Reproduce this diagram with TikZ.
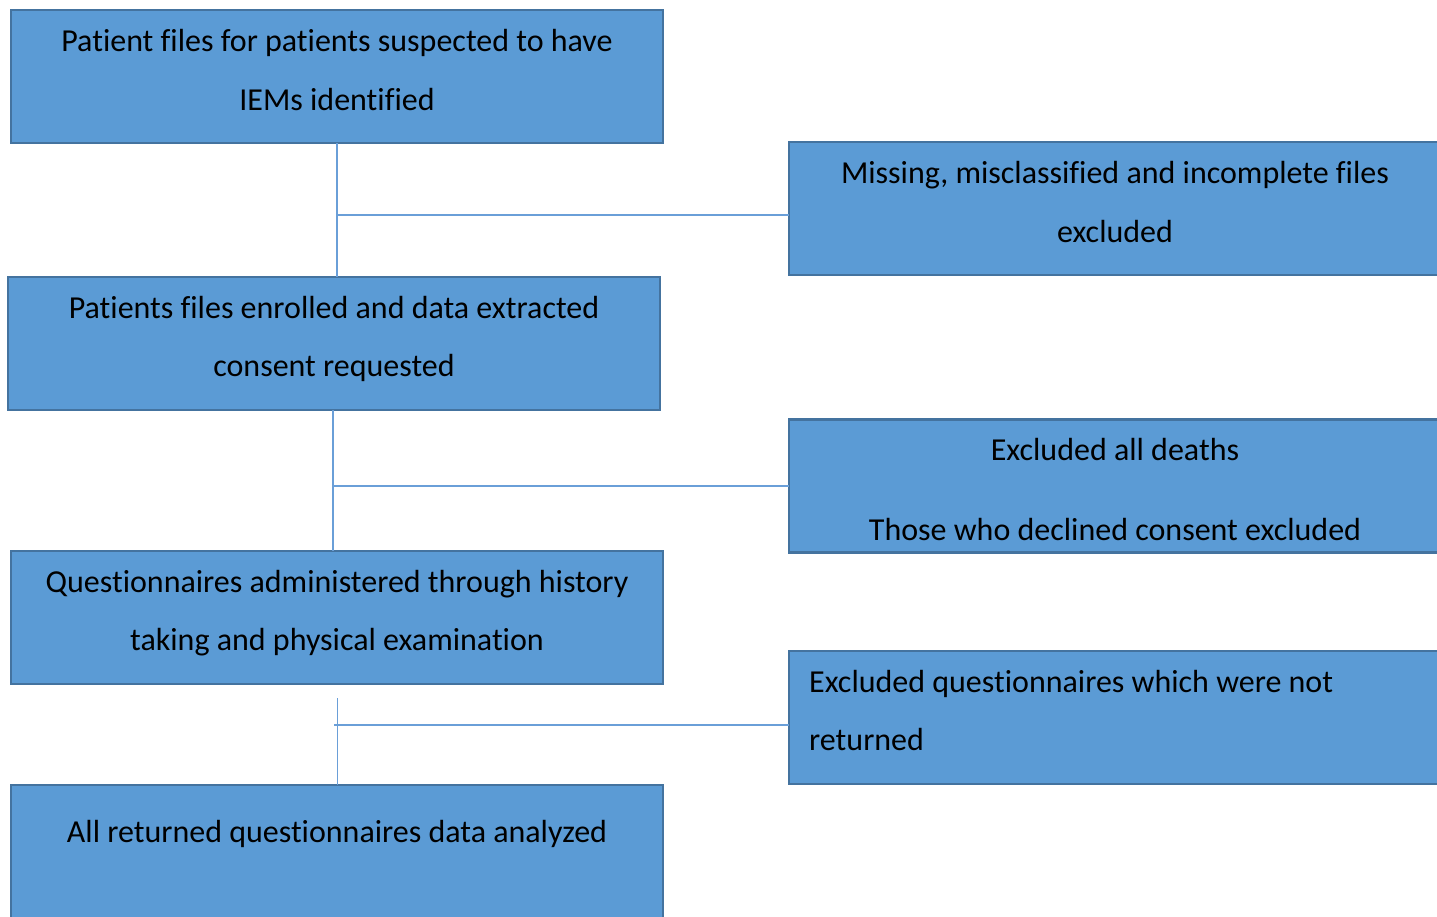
\documentclass[tikz,border=0pt]{standalone}
\usepackage{fontspec}
\setmainfont[Ligatures=NoCommon]{Carlito}
\definecolor{boxfill}{HTML}{5B9BD5}
\definecolor{boxedge}{HTML}{44739F}
\definecolor{linkline}{HTML}{6A9FD8}
\begin{document}
\begin{tikzpicture}[x=1pt,y=-1pt,
  box/.style={draw=boxedge, fill=boxfill, line width=2.8pt, inner sep=0pt, outer sep=0pt,
              minimum width=652pt, minimum height=133pt},
  lbl/.style={font=\fontsize{32}{38}\selectfont, text=black, inner sep=0pt},
  link/.style={draw=linkline, line width=1.3pt}]
\useasboundingbox (0,0) rectangle (1437,916);
\clip (0,0) rectangle (1437,916);

% boxes of the main flow (left) and of the exclusions (right)
\node[box] (b1) at (337,76.5) {};
\node[box] (r1) at (1115,208.5) {};
\node[box] (b2) at (334,343.5) {};
\node[box] (r2) at (1115,486) {};
\node[box] (b3) at (337,617.5) {};
\node[box] (r3) at (1115,717.5) {};
\node[box] (b4) at (337,851.5) {};

% texts
\node[lbl, anchor=base] (t1a) at (337,51.5) {Patient files for patients suspected to have};
\node[lbl, anchor=base] (t1b) at (337,110.5) {IEMs identified};
\node[lbl, anchor=base] (u1a) at (1115,183.5) {Missing, misclassified and incomplete files};
\node[lbl, anchor=base] (u1b) at (1115,242.5) {excluded};
\node[lbl, anchor=base] (t2a) at (334,318.5) {Patients files enrolled and data extracted};
\node[lbl, anchor=base] (t2b) at (334,376.5) {consent requested};
\node[lbl, anchor=base] (u2a) at (1115,460.5) {Excluded all deaths};
\node[lbl, anchor=base] (u2b) at (1115,540.5) {Those who declined consent excluded};
\node[lbl, anchor=base] (t3a) at (337,592.5) {Questionnaires administered through history};
\node[lbl, anchor=base] (t3b) at (337,650.5) {taking and physical examination};
\node[lbl, anchor=base west] (u3a) at (809,692.5) {Excluded questionnaires which were not};
\node[lbl, anchor=base west] (u3b) at (809,750.5) {returned};
\node[lbl, anchor=base] (t4a) at (337,842.5) {All returned questionnaires data analyzed};

% connectors
\coordinate (j1) at (337,215);
\draw[link] (b1.south) -- (b1.south |- b2.north);
\draw[link] (j1) -- (j1 -| r1.west);

\coordinate (j2) at (333,486);
\draw[link] (j2 |- b2.south) -- (j2 |- b3.north);
\draw[link] (j2) -- (r2.west);

\coordinate (s3) at (337.5,698);
\coordinate (j3) at (334,725);
\draw[link] (s3) -- (s3 |- b4.north);
\draw[link] (j3) -- (j3 -| r3.west);
\end{tikzpicture}
\end{document}
